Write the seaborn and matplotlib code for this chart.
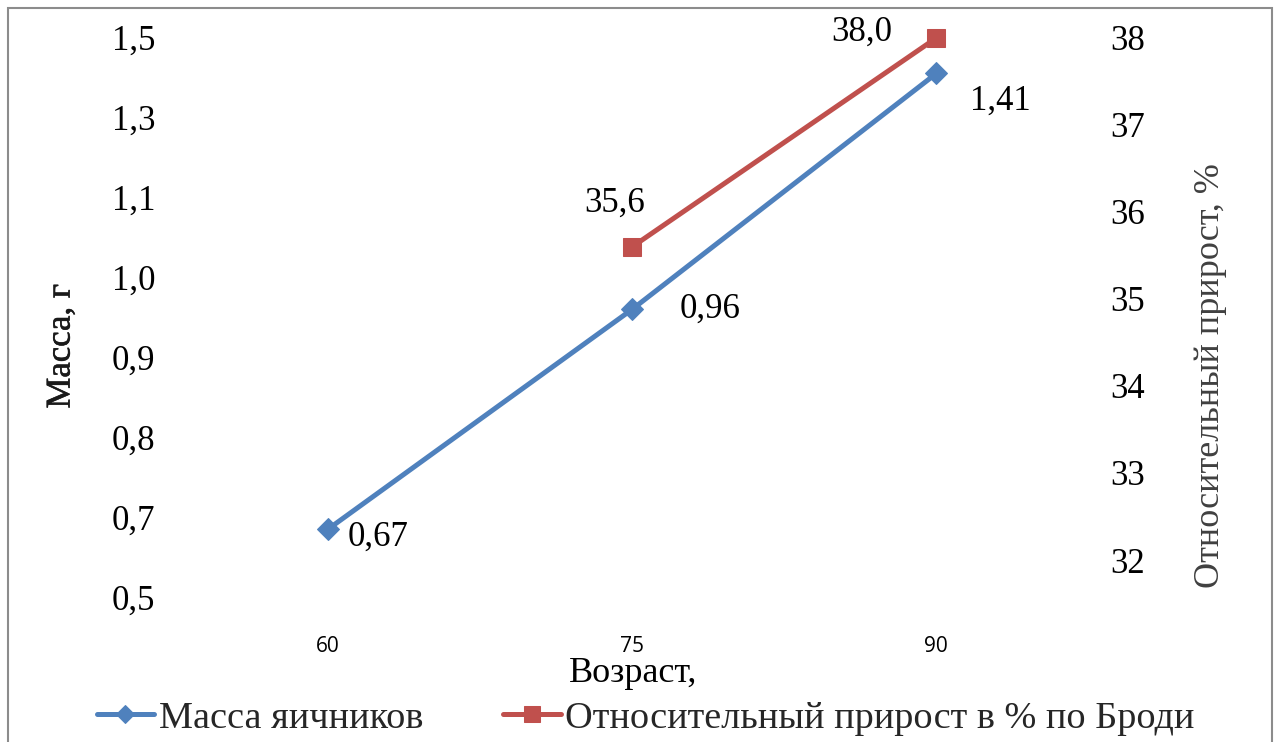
import numpy as np
import pandas as pd
import matplotlib
matplotlib.use("Agg")
import matplotlib.pyplot as plt
import matplotlib.patches as mpatches
import matplotlib.patheffects as pe
from matplotlib.ticker import FixedLocator, FuncFormatter
import seaborn as sns

# --- data ---
age = [60, 75, 90]
ovary_mass = [0.67, 0.96, 1.41]
brody_age = [75, 90]
brody_growth = [35.6, 38.0]
mass_ticks = [0.5, 0.7, 0.8, 0.9, 1.0, 1.1, 1.3, 1.5]
growth_ticks = [32, 33, 34, 35, 36, 37, 38]

BLUE = "#4F81BD"
RED = "#C0504D"
SERIF = "Liberation Serif"

sns.set_theme(style="white")
plt.rcParams["font.family"] = [SERIF, "DejaVu Serif"]

fig = plt.figure(figsize=(12.76, 7.42), dpi=100)
ax = fig.add_axes([0.138, 0.162, 0.715, 0.808])
ax2 = ax.twinx()

df_mass = pd.DataFrame({"age": age, "mass": ovary_mass})
df_growth = pd.DataFrame({"age": brody_age, "growth": brody_growth})

sns.lineplot(data=df_mass, x="age", y="mass", ax=ax, color=BLUE, lw=3.6,
             marker="D", markersize=11, markeredgecolor=BLUE, label="Масса яичников",
             legend=False)
sns.lineplot(data=df_growth, x="age", y="growth", ax=ax2, color=RED, lw=3.6,
             marker="s", markersize=13, markeredgecolor=RED,
             label="Относительный прирост в % по Броди", legend=False)

# left axis: tick values sit at equal steps, linear between them
_idx = np.arange(len(mass_ticks), dtype=float)
_vals = np.asarray(mass_ticks, dtype=float)


def _fwd(v):
    v = np.asarray(v, dtype=float)
    k = np.interp(v, _vals, _idx)
    lo = v < _vals[0]
    hi = v > _vals[-1]
    k = np.where(lo, (v - _vals[0]) / (_vals[1] - _vals[0]), k)
    k = np.where(hi, _idx[-1] + (v - _vals[-1]) / (_vals[-1] - _vals[-2]), k)
    return k


def _inv(k):
    k = np.asarray(k, dtype=float)
    v = np.interp(k, _idx, _vals)
    lo = k < 0
    hi = k > _idx[-1]
    v = np.where(lo, _vals[0] + k * (_vals[1] - _vals[0]), v)
    v = np.where(hi, _vals[-1] + (k - _idx[-1]) * (_vals[-1] - _vals[-2]), v)
    return v


ax.set_yscale("function", functions=(_fwd, _inv))
ax.set_ylim(0.438, 1.538)
ax.yaxis.set_major_locator(FixedLocator(mass_ticks))
ax.yaxis.set_minor_locator(FixedLocator([]))
ax.yaxis.set_major_formatter(FuncFormatter(lambda v, p: f"{v:.1f}".replace(".", ",")))

ax2.set_ylim(31.29, 38.18)
ax2.yaxis.set_major_locator(FixedLocator(growth_ticks))
ax2.yaxis.set_major_formatter(FuncFormatter(lambda v, p: f"{v:.0f}"))

ax.set_xlim(52.5, 97.5)
ax.set_xticks(age)
ax.set_xticklabels([str(a) for a in age], family=["Open Sans", "DejaVu Sans"], fontsize=15)

for a in (ax, ax2):
    for s in a.spines.values():
        s.set_visible(False)
    a.grid(False)
    a.tick_params(length=0)

ax.tick_params(axis="y", labelsize=25, pad=15, labelcolor="black")
ax2.tick_params(axis="y", labelsize=25, pad=16, labelcolor="black")
ax.tick_params(axis="x", pad=10, labelcolor="black")

ax.set_xlabel("Возраст,", fontsize=26, color="black")
ax.xaxis.set_label_coords(0.5005, -0.058)
ylab = ax.set_ylabel("Масса, г", fontsize=25, color="#1a1a1a")
ylab.set_path_effects([pe.withStroke(linewidth=0.4, foreground="#1a1a1a")])
ax.yaxis.set_label_coords(-0.108, 0.46)
ax2.set_ylabel("Относительный прирост, %", fontsize=26, color="#404040")
ax2.yaxis.set_label_coords(1.116, 0.41)

# value labels
lab_kw = dict(fontsize=25, color="black", textcoords="offset points")
ax.annotate("0,67", (age[0], ovary_mass[0]), xytext=(14, -6), ha="left", va="center", **lab_kw)
ax.annotate("0,96", (age[1], ovary_mass[1]), xytext=(34, 0), ha="left", va="center", **lab_kw)
ax.annotate("1,41", (age[2], ovary_mass[2]), xytext=(24, -20), ha="left", va="center", **lab_kw)
ax2.annotate("35,6", (brody_age[0], brody_growth[0]), xytext=(-13, 31), ha="center", va="center", **lab_kw)
ax2.annotate("38,0", (brody_age[1], brody_growth[1]), xytext=(-32, 4), ha="right", va="center", **lab_kw)

# legend under the chart
handles = ax.get_lines()[:1] + ax2.get_lines()[:1]
labels = ["Масса яичников", "Относительный прирост в % по Броди"]
fig.legend(handles, labels, loc="center", bbox_to_anchor=(0.506, 0.032), ncol=2,
           frameon=False, fontsize=27.5, handlelength=1.5, columnspacing=2.1,
           handletextpad=0.12, borderaxespad=0, markerscale=0.85)

# chart border
fig.patches.append(mpatches.Rectangle((0.0063, -0.05), 0.9906, 1.039, transform=fig.transFigure,
                                      fill=False, edgecolor="#8c8c8c", lw=1.5))

fig.savefig("out.png", dpi=100)
